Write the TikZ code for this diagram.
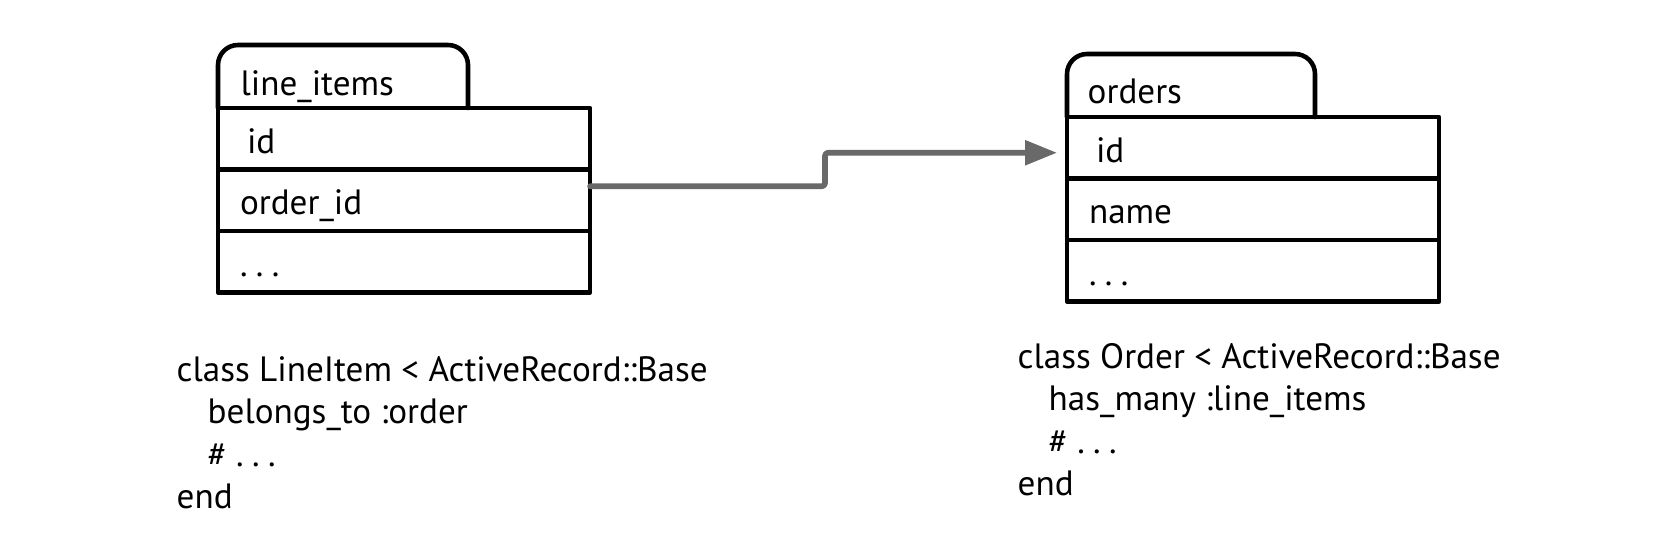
\documentclass[tikz,border=0pt]{standalone}
\usepackage{fontspec}
\setmainfont{PT Sans}
\usetikzlibrary{positioning,arrows.meta}
\definecolor{linkgray}{RGB}{105,105,105}
\newcommand{\spdots}{.\hspace{2.4pt}.\hspace{2.4pt}.}
\tikzset{
  field/.style={draw,line width=1.3pt,outer sep=0pt,text width=3.28cm,
    inner xsep=0.22cm,inner ysep=0pt,minimum height=0.615cm,align=left,
    text height=0.29cm,text depth=0pt,font=\fontsize{10}{12}\selectfont},
  tab/.style={line width=1.3pt,rounded corners=0.2cm},
  code/.style={align=left,inner sep=0pt,anchor=north west,
    font=\fontsize{10}{12}\selectfont},
  link/.style={line width=1.6pt,linkgray,rounded corners=0.03cm,
    -{Triangle[length=0.32cm,width=0.24cm]}},
}
\begin{document}
\begin{tikzpicture}[x=1cm,y=1cm,line cap=round,line join=round]
  \useasboundingbox (0,0) rectangle (16.64,5.42);

  % line_items table
  \draw[tab] (2.18,4.34) -- (2.18,4.97) -- (4.68,4.97) -- (4.68,4.34);
  \node[font=\fontsize{10}{12}\selectfont,anchor=base west,inner sep=0pt]
    (li-name) at (2.40,4.47) {line\_items};
  \node[field,anchor=north west] (li-id) at (2.18,4.34) {\hspace*{2pt}id};
  \node[field,below=0pt of li-id] (li-oid) {order\_id};
  \node[field,below=0pt of li-oid] (li-more) {\spdots};

  % orders table
  \draw[tab] (10.67,4.25) -- (10.67,4.88) -- (13.15,4.88) -- (13.15,4.25);
  \node[font=\fontsize{10}{12}\selectfont,anchor=base west,inner sep=0pt]
    (or-name) at (10.87,4.39) {orders};
  \node[field,anchor=north west] (or-id) at (10.67,4.25) {\hspace*{2pt}id};
  \node[field,below=0pt of or-id] (or-nm) {name};
  \node[field,below=0pt of or-nm] (or-more) {\spdots};

  \draw[link] ([yshift=0.14cm]li-oid.east) -- ++(2.35,0)
    |- ([xshift=-0.1cm,yshift=-0.05cm]or-id.west);

  \node[code] (li-code) at (1.76,1.86)
    {class LineItem < ActiveRecord::Base\\
     \hspace*{0.31cm}belongs\_to :order\\
     \hspace*{0.31cm}\# \spdots\\
     end};
  \node[code] (or-code) at (10.17,1.99)
    {class Order < ActiveRecord::Base\\
     \hspace*{0.31cm}has\_many :line\_items\\
     \hspace*{0.31cm}\# \spdots\\
     end};
\end{tikzpicture}
\end{document}
